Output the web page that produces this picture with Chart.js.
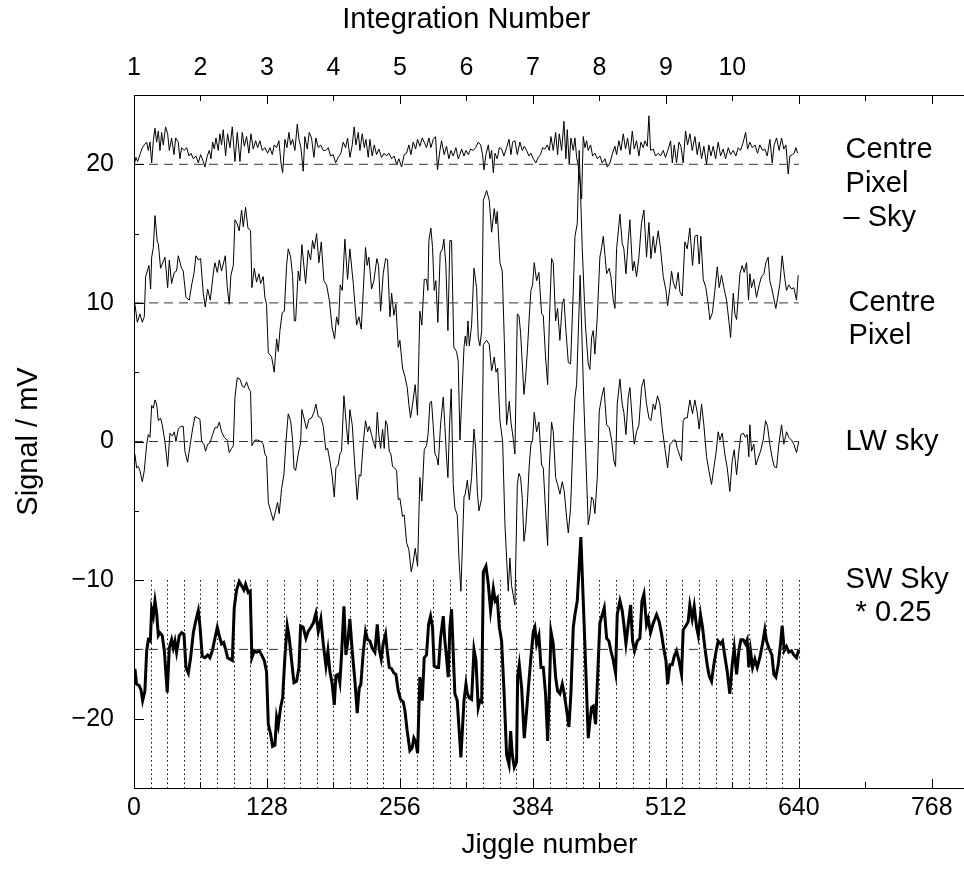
<!DOCTYPE html>
<html>
<head>
<meta charset="utf-8">
<script src="https://cdn.jsdelivr.net/npm/chart.js@4.4.1/dist/chart.umd.min.js"></script>
<style>
  html, body { margin: 0; padding: 0; background: #fff; overflow: hidden; }
  #wrap { width: 964px; height: 869px; overflow: hidden; }
</style>
</head>
<body>
<div id="wrap"><canvas id="jiggleChart" width="1000" height="869"></canvas></div>
<script>
  // [jiggle number, signal mV]
  const centreMinusSky = [
    [0.3,20.0],[1.9,20.5],[3.5,20.2],[5.7,20.7],[8.0,21.2],[9.9,21.4],[12.2,21.6],[13.8,21.0],[15.4,21.6],[17.0,20.1],
    [18.6,21.7],[20.2,22.6],[21.8,21.6],[23.4,22.4],[25.0,21.0],[26.6,22.3],[28.2,21.4],[30.4,22.7],[32.4,22.2],[34.0,21.0],
    [36.2,21.9],[38.5,20.7],[40.1,21.9],[42.6,21.6],[44.2,20.4],[45.8,21.2],[48.4,21.0],[50.7,21.2],[52.9,20.6],[54.8,20.8],
    [57.1,20.4],[59.6,20.6],[61.9,20.1],[64.1,20.7],[66.7,20.2],[68.3,19.8],[70.5,20.6],[72.5,21.0],[74.1,20.4],[75.7,21.6],
    [77.3,21.1],[78.9,21.9],[81.1,21.0],[82.7,22.2],[84.3,21.4],[85.9,22.5],[88.2,20.6],[90.1,22.2],[92.4,21.2],[94.6,22.7],
    [97.2,20.2],[99.4,22.3],[102.0,20.2],[104.2,22.3],[106.2,21.3],[108.4,22.0],[110.6,20.8],[112.6,22.2],[114.8,21.1],[117.1,21.7],
    [119.0,21.2],[121.2,21.7],[123.5,21.0],[126.0,21.2],[128.6,20.8],[130.9,21.2],[133.1,20.7],[135.0,21.4],[137.3,21.2],[139.5,21.7],
    [141.5,20.1],[143.1,19.4],[145.3,21.8],[147.2,21.2],[149.1,22.3],[150.8,21.4],[152.7,21.8],[154.9,21.0],[157.2,22.9],[158.8,21.8],
    [160.7,21.2],[162.9,19.5],[164.5,22.0],[166.8,21.1],[168.7,22.3],[170.9,21.9],[173.2,20.5],[175.1,21.9],[177.4,21.2],[179.6,21.4],
    [182.2,21.0],[184.4,21.0],[187.0,21.2],[189.2,20.6],[191.8,20.7],[194.1,20.1],[196.6,20.5],[199.2,20.8],[201.4,21.6],[203.7,21.2],
    [205.6,21.9],[207.9,20.5],[210.1,21.4],[212.0,22.7],[213.6,21.4],[215.9,22.3],[217.5,21.0],[219.7,22.2],[221.7,21.2],[223.3,21.8],
    [225.5,20.5],[227.1,21.8],[229.3,20.6],[231.3,21.4],[233.5,20.7],[235.8,21.1],[238.3,20.5],[240.9,20.8],[243.1,20.6],[245.4,20.8],
    [248.0,20.4],[250.5,20.6],[252.8,20.0],[255.0,20.4],[257.6,19.8],[260.1,20.7],[262.4,20.8],[264.6,21.4],[266.6,20.7],[268.8,21.6],
    [271.1,21.1],[273.0,21.8],[275.2,21.3],[277.5,21.9],[279.4,21.6],[281.6,21.2],[283.9,21.9],[285.8,21.2],[288.1,21.8],[290.3,22.0],
    [292.2,19.6],[294.5,21.0],[296.1,21.7],[298.6,20.7],[300.9,21.3],[303.1,20.4],[305.1,21.0],[307.3,20.6],[309.9,21.2],[312.1,20.4],
    [313.8,20.7],[315.4,21.1],[317.7,20.6],[319.6,21.0],[321.8,20.7],[324.1,21.1],[326.6,21.0],[328.9,21.2],[331.4,21.6],[333.7,21.4],
    [335.6,20.7],[336.9,19.6],[338.8,20.7],[341.1,21.4],[342.7,20.4],[344.3,21.0],[345.9,19.4],[347.5,20.8],[349.7,20.4],[351.7,21.2],
    [353.9,21.1],[356.1,20.6],[358.7,21.2],[361.0,21.8],[362.9,20.7],[364.5,21.6],[366.7,21.7],[369.0,20.7],[371.5,21.6],[373.8,21.0],
    [375.7,21.3],[378.0,21.0],[380.2,20.6],[382.1,20.8],[384.4,20.4],[386.9,20.1],[389.2,20.5],[391.4,20.7],[393.4,21.2],[395.6,21.1],
    [397.9,21.4],[399.8,21.0],[401.4,22.0],[403.6,21.0],[405.9,22.3],[407.8,20.7],[409.4,22.2],[411.7,21.0],[413.9,23.1],[415.8,20.4],
    [417.1,22.5],[419.0,20.0],[420.6,21.9],[422.9,21.0],[424.5,21.9],[426.1,20.5],[427.7,19.9],[429.3,18.8],[430.9,17.5],[432.5,22.0],
    [434.1,21.2],[435.7,21.7],[437.3,21.0],[439.6,21.4],[441.5,20.6],[443.7,20.8],[446.0,20.4],[448.5,20.6],[450.8,20.1],[453.4,20.4],
    [455.6,19.8],[458.2,20.1],[460.7,20.8],[463.0,21.3],[464.6,20.7],[466.8,21.7],[468.8,21.0],[471.0,22.2],[473.2,21.1],[475.2,21.9],
    [477.4,20.7],[479.7,22.4],[481.6,21.1],[483.8,21.7],[486.1,20.6],[488.0,21.6],[490.3,21.2],[491.9,21.7],[494.1,21.3],[495.7,23.5],
    [497.3,21.0],[499.9,21.1],[502.1,20.6],[504.7,20.8],[506.9,20.6],[509.5,21.0],[511.7,20.5],[514.3,21.1],[516.6,21.7],[518.2,20.1],
    [520.1,21.4],[522.3,20.1],[524.6,21.6],[526.5,21.3],[528.7,20.1],[531.0,22.4],[532.9,21.4],[535.2,22.2],[537.4,21.0],[540.0,22.0],
    [542.2,20.7],[544.2,21.6],[546.4,20.4],[548.6,21.3],[551.2,20.0],[553.4,21.4],[555.4,20.6],[557.6,21.3],[559.9,20.4],[562.4,21.6],
    [564.7,20.6],[567.2,21.1],[569.5,20.4],[572.1,21.2],[574.3,20.7],[576.9,21.0],[579.4,20.6],[581.7,21.2],[583.9,21.0],[586.5,21.6],
    [588.8,22.3],[590.7,21.1],[592.9,21.6],[595.2,21.2],[597.7,21.4],[600.3,20.8],[602.5,21.4],[605.1,21.0],[607.4,21.1],[609.6,20.6],
    [612.2,21.8],[614.4,20.1],[616.3,21.4],[618.6,21.9],[621.1,21.0],[623.4,21.9],[625.6,21.1],[627.6,21.4],[629.8,19.3],[631.4,20.6],
    [633.7,20.7],[635.6,20.8],[637.2,21.2],[638.8,20.8]
  ];

  const centrePixel = [
    [0.9,9.9],[3.2,8.6],[5.7,9.2],[8.0,8.6],[9.9,9.0],[11.2,11.9],[14.4,12.7],[16.0,11.0],[17.0,13.3],[18.6,14.0],
    [20.2,16.3],[22.4,14.4],[23.4,14.3],[25.6,12.5],[27.2,12.8],[29.8,13.3],[32.4,11.1],[34.0,13.1],[36.2,11.4],[38.8,12.2],
    [41.0,12.3],[42.6,13.4],[45.8,12.5],[47.4,12.3],[50.0,10.4],[53.2,10.2],[55.5,11.3],[57.7,12.1],[59.6,13.4],[61.9,13.1],
    [64.1,13.2],[66.7,10.7],[68.6,9.7],[70.9,11.0],[73.4,10.2],[76.3,12.1],[77.9,12.9],[80.2,12.2],[82.1,13.1],[84.3,12.3],
    [87.9,13.4],[89.8,11.1],[91.7,9.9],[93.3,12.0],[95.6,12.7],[97.2,16.0],[99.4,15.7],[101.3,15.2],[103.6,16.7],[105.2,15.5],
    [107.4,16.9],[109.7,15.4],[112.2,15.2],[113.5,11.1],[115.8,12.5],[118.0,11.5],[120.3,12.1],[121.9,11.4],[124.4,11.9],[126.0,10.4],
    [127.6,9.9],[129.3,6.4],[132.5,6.1],[135.0,5.0],[137.3,7.4],[138.9,6.5],[140.5,8.0],[142.7,9.3],[144.7,9.4],[146.9,12.7],
    [148.5,13.9],[150.8,13.3],[152.7,11.9],[154.3,8.7],[155.6,8.7],[158.1,12.3],[159.7,11.6],[161.6,14.2],[165.2,11.4],[167.7,13.8],
    [170.0,13.1],[171.9,14.5],[173.5,13.9],[175.8,15.0],[178.0,12.9],[180.3,14.4],[182.8,11.6],[185.4,11.3],[188.0,10.2],[190.8,8.2],
    [193.1,7.4],[195.0,9.0],[196.9,8.4],[198.5,11.3],[200.5,10.9],[203.0,14.6],[205.6,11.7],[207.8,13.9],[211.1,11.4],[214.3,8.4],
    [216.5,9.0],[218.8,8.1],[220.7,10.9],[222.9,14.0],[224.5,12.7],[226.1,13.3],[228.7,11.0],[230.9,11.6],[233.8,13.2],[235.4,12.7],
    [237.4,9.4],[239.9,12.1],[242.2,13.2],[244.1,13.1],[246.4,9.0],[248.0,10.7],[250.2,9.1],[252.1,9.9],[254.4,6.8],[256.0,7.3],
    [258.5,5.3],[260.8,4.7],[263.0,3.9],[264.6,2.7],[266.2,1.7],[268.2,2.7],[270.7,4.1],[272.9,1.9],[275.2,9.4],[277.1,8.4],
    [279.4,11.7],[281.6,11.7],[282.9,10.9],[283.9,14.5],[285.8,15.4],[287.4,14.0],[289.0,10.9],[290.6,11.6],[292.5,8.6],[294.8,13.6],
    [297.0,13.9],[298.3,14.6],[300.2,12.8],[302.2,8.0],[304.1,14.5],[305.7,14.5],[307.9,6.8],[310.5,6.5],[312.1,5.8],[313.8,0.1],
    [317.7,6.8],[318.9,7.6],[320.2,6.9],[321.5,8.7],[322.8,6.9],[325.0,8.4],[327.3,12.5],[329.8,11.1],[331.4,7.5],[333.0,6.9],
    [334.7,8.0],[336.3,17.4],[339.5,18.1],[342.0,17.4],[344.3,15.1],[346.8,16.8],[348.5,15.7],[349.7,16.6],[352.3,12.9],[354.5,12.3],
    [356.5,7.3],[358.7,1.2],[361.3,2.9],[362.9,1.4],[365.1,0.2],[366.7,-0.9],[369.0,9.2],[370.6,9.1],[372.2,7.8],[373.8,5.6],
    [375.4,3.4],[377.0,4.6],[378.9,6.8],[380.5,9.0],[382.1,10.9],[383.7,11.3],[385.3,12.9],[387.6,11.6],[389.8,12.2],[392.4,9.2],
    [394.0,9.1],[396.2,6.1],[398.2,4.1],[399.8,8.5],[402.0,13.2],[403.6,12.9],[405.9,8.7],[407.8,9.6],[410.0,7.3],[412.3,9.9],
    [413.9,10.3],[415.8,8.0],[418.1,5.7],[420.3,5.6],[422.9,10.9],[424.5,14.8],[426.7,15.7],[428.6,21.0],[431.5,14.0],[434.5,8.5],
    [437.3,5.6],[438.9,5.2],[440.5,7.5],[442.1,8.0],[443.7,6.3],[446.0,9.0],[448.5,13.3],[450.2,14.0],[451.8,14.8],[455.0,12.1],
    [457.5,12.5],[459.1,11.9],[461.4,10.2],[463.0,9.6],[464.6,13.9],[467.8,16.4],[470.0,14.3],[471.6,13.9],[473.6,12.1],[475.8,14.5],
    [477.4,16.0],[480.0,12.3],[481.6,13.0],[483.8,11.9],[486.1,13.3],[488.6,15.8],[490.9,16.7],[493.4,13.3],[495.7,15.8],[497.6,13.2],
    [499.9,14.8],[501.5,13.6],[504.7,15.2],[506.9,13.9],[509.5,11.9],[512.1,10.9],[513.7,9.8],[515.9,11.1],[517.5,12.3],[519.1,11.5],
    [521.4,11.0],[523.9,12.2],[525.5,10.8],[527.8,10.5],[530.3,14.4],[532.6,13.9],[535.1,15.4],[537.7,12.7],[539.9,14.8],[542.2,14.9],
    [544.1,12.8],[545.7,14.8],[548.0,11.7],[550.5,11.1],[552.8,9.9],[554.4,8.8],[556.9,9.3],[559.2,10.9],[561.5,12.6],[563.4,11.1],
    [565.6,12.0],[567.9,11.1],[570.4,10.2],[572.7,8.7],[574.3,7.5],[576.9,10.7],[578.5,9.2],[580.1,8.8],[583.3,12.1],[585.5,12.7],
    [587.4,12.2],[589.7,12.9],[591.6,10.2],[592.9,12.1],[594.5,11.1],[596.7,11.7],[599.3,10.4],[601.9,11.3],[604.1,11.9],[606.4,12.1],
    [608.3,12.9],[610.5,13.3],[612.1,11.6],[613.8,11.1],[616.0,10.3],[617.9,9.6],[619.5,10.3],[621.8,11.4],[624.0,13.4],[626.6,11.7],
    [628.2,10.9],[630.4,11.3],[633.0,11.0],[635.2,11.1],[637.8,10.2],[639.4,12.0]
  ];

  const lwSky = [
    [0.9,-0.9],[2.5,-1.9],[4.1,-1.8],[5.7,-2.1],[8.0,-2.9],[9.9,-2.1],[12.2,-0.2],[13.8,0.5],[15.4,0.3],[17.0,2.6],
    [18.6,2.4],[20.2,3.0],[21.8,2.7],[23.4,1.5],[25.6,1.7],[27.2,1.2],[29.8,0.0],[32.4,-1.8],[34.6,0.6],[36.9,0.4],
    [38.8,0.7],[40.4,0.0],[42.6,0.9],[45.2,1.1],[47.4,1.1],[49.0,-0.7],[51.6,-1.5],[53.9,-0.3],[56.4,0.9],[58.7,1.8],
    [61.2,1.7],[63.5,1.6],[65.1,0.0],[67.3,-0.2],[68.9,-0.7],[70.9,-0.2],[73.1,-0.1],[75.7,0.5],[77.9,1.0],[80.2,1.0],
    [82.1,1.4],[84.3,0.7],[86.9,0.3],[89.8,0.1],[91.7,-0.8],[94.0,-0.5],[95.6,-0.3],[97.2,3.2],[99.4,4.6],[102.0,4.5],
    [104.2,4.0],[106.2,3.9],[108.4,4.3],[110.6,3.8],[112.2,3.6],[113.5,-0.3],[116.4,0.1],[119.0,0.1],[122.2,0.0],[124.4,-0.2],
    [126.0,-0.9],[127.6,-1.1],[129.3,-4.4],[131.5,-5.0],[134.1,-5.7],[136.3,-5.0],[138.2,-4.4],[139.8,-5.2],[142.1,-3.4],[144.3,-2.4],
    [146.3,0.0],[148.5,2.0],[150.8,1.5],[152.7,0.1],[154.0,-1.9],[155.6,-2.1],[158.1,-0.9],[160.4,-0.1],[161.6,2.3],[163.6,1.7],
    [166.1,0.9],[168.4,1.6],[171.0,1.7],[173.2,2.1],[175.1,2.7],[177.4,1.8],[179.9,1.7],[182.2,1.1],[184.7,-0.6],[186.4,-0.5],
    [188.6,-1.4],[190.8,-2.5],[192.8,-4.0],[194.4,-1.9],[196.6,-1.7],[198.2,-0.9],[199.8,-0.7],[202.1,3.3],[204.6,1.0],[206.2,-0.2],
    [207.8,2.3],[210.1,1.2],[212.7,-1.9],[214.9,-4.2],[216.8,-2.4],[218.4,-2.5],[220.7,-0.1],[222.9,1.5],[224.9,0.7],[226.5,1.1],
    [228.7,0.5],[230.3,0.0],[232.5,-0.5],[234.2,2.1],[235.8,0.4],[237.4,-0.5],[239.3,0.9],[240.9,-0.5],[242.2,1.5],[243.8,1.2],
    [245.7,-0.7],[247.3,-0.9],[248.9,-1.8],[250.8,-1.9],[252.8,-2.1],[254.4,-4.2],[256.0,-4.1],[258.5,-5.4],[260.1,-5.3],[262.4,-7.3],
    [264.6,-7.8],[266.9,-9.4],[268.8,-8.7],[270.7,-7.7],[273.0,-9.0],[275.2,-2.6],[277.1,-4.3],[279.4,-0.6],[281.6,-0.3],[283.2,0.6],
    [284.8,2.8],[286.4,2.9],[288.0,1.2],[289.7,-0.9],[291.3,-1.1],[292.9,-1.7],[295.1,1.2],[297.7,3.2],[299.3,1.1],[300.9,-1.2],
    [302.2,-2.6],[303.8,1.2],[305.4,3.8],[307.3,-3.1],[308.9,-4.8],[311.2,-5.3],[312.8,-8.4],[314.7,-10.8],[317.7,-4.0],[318.9,-3.8],
    [320.9,-2.8],[322.8,-4.2],[325.0,-2.6],[327.3,0.9],[328.9,-0.5],[330.5,-3.6],[332.1,-5.0],[334.7,-4.1],[336.3,7.0],[339.5,7.3],
    [342.0,7.0],[344.3,5.1],[346.8,6.1],[348.5,5.0],[350.1,5.3],[352.3,1.5],[354.9,0.0],[357.1,-6.0],[358.7,-8.4],[360.3,-10.8],
    [361.9,-8.4],[363.5,-10.4],[365.1,-11.1],[366.7,-11.8],[369.0,-3.1],[370.6,-2.3],[372.2,-2.6],[373.8,-4.1],[375.4,-7.2],[377.0,-6.3],
    [378.9,-4.1],[380.5,-1.7],[382.1,-0.2],[383.7,0.1],[385.3,2.1],[387.6,0.7],[389.8,1.4],[392.4,-1.7],[394.0,-1.9],[396.2,-5.0],
    [398.2,-7.5],[399.8,-1.9],[402.0,1.4],[403.6,0.7],[405.9,-2.6],[407.8,-3.1],[410.0,-3.8],[412.3,-2.9],[414.2,-3.6],[416.5,-5.5],
    [418.1,-6.6],[420.3,-4.8],[422.9,0.7],[424.5,3.2],[426.1,4.1],[429.5,12.0],[433.0,3.0],[437.3,-6.0],[438.9,-5.3],[440.5,-4.0],
    [442.1,-4.2],[443.7,-5.2],[446.0,-2.6],[447.9,2.2],[450.2,3.2],[452.4,3.9],[455.0,1.2],[457.5,1.0],[459.8,0.1],[462.0,-1.4],
    [463.6,-1.8],[465.2,2.7],[467.8,4.5],[470.0,2.7],[471.6,2.1],[473.6,0.5],[475.8,3.2],[477.4,3.9],[480.0,1.2],[481.6,-0.2],
    [483.8,0.7],[486.1,1.2],[488.6,3.9],[490.9,4.5],[493.4,2.7],[495.7,1.7],[497.6,1.5],[499.9,2.7],[501.5,2.3],[504.0,3.3],
    [506.3,2.7],[508.5,1.0],[511.1,-0.5],[513.7,-1.9],[515.9,-0.2],[517.5,-0.1],[519.1,0.1],[521.4,0.1],[523.0,-0.5],[524.9,-0.9],
    [527.1,-1.4],[528.7,1.5],[530.3,1.7],[532.6,1.7],[535.1,3.0],[537.7,2.0],[539.9,3.0],[542.2,2.1],[544.1,0.9],[546.4,2.7],
    [548.6,1.2],[551.2,-1.1],[553.4,-2.1],[556.0,-3.1],[558.2,-1.9],[560.2,-0.9],[562.4,0.7],[564.0,0.1],[566.3,0.6],[568.8,-0.9],
    [571.1,-1.9],[573.6,-3.6],[575.9,-1.4],[577.8,-0.6],[580.1,-2.4],[582.3,-0.7],[584.2,0.5],[586.5,0.6],[588.7,0.3],[590.3,0.5],
    [591.9,-1.1],[592.9,1.2],[594.5,-0.7],[596.7,-0.2],[598.7,-1.7],[600.9,-1.2],[603.2,-0.7],[605.7,0.1],[608.0,1.5],[609.9,1.1],
    [612.1,-0.2],[614.4,-1.2],[616.3,-1.8],[618.6,-1.9],[620.8,-0.2],[623.4,1.2],[625.6,-0.2],[628.2,0.7],[630.4,0.3],[633.0,0.1],
    [635.2,-0.2],[637.8,-0.8],[640.0,0.0]
  ];

  // SW sky, already scaled by 0.25 and offset to -15
  const swSky = [
    [0.9,-16.4],[2.5,-17.5],[4.8,-17.6],[6.7,-17.9],[8.3,-18.7],[10.5,-18.0],[12.2,-15.1],[13.8,-14.3],[15.7,-14.4],[17.0,-12.1],
    [18.6,-12.6],[20.2,-11.5],[21.8,-12.4],[23.4,-14.0],[25.0,-13.8],[27.2,-14.0],[29.2,-15.1],[32.0,-18.1],[34.0,-14.9],[36.2,-14.3],
    [37.8,-14.9],[39.4,-14.4],[41.0,-15.2],[43.6,-14.0],[45.8,-13.8],[48.1,-13.9],[50.0,-16.3],[52.3,-16.7],[54.5,-15.6],[57.1,-13.8],
    [59.3,-13.0],[61.9,-12.2],[63.5,-13.3],[65.7,-15.5],[68.3,-15.6],[70.9,-15.4],[73.1,-15.6],[75.4,-15.1],[77.9,-14.2],[80.2,-13.4],
    [82.1,-14.0],[84.3,-14.6],[86.3,-14.5],[88.2,-15.0],[90.1,-15.6],[92.4,-15.7],[94.6,-15.8],[96.5,-12.0],[98.8,-10.7],[101.3,-10.1],
    [103.6,-10.4],[105.8,-10.7],[107.4,-10.3],[110.0,-10.9],[111.9,-10.8],[113.5,-15.6],[115.8,-15.1],[118.0,-15.2],[120.6,-15.1],[122.8,-15.4],
    [125.4,-15.8],[127.6,-16.6],[129.3,-20.4],[131.5,-21.1],[133.4,-22.0],[135.7,-21.9],[137.3,-19.9],[138.9,-20.5],[141.1,-19.2],[143.1,-18.5],
    [145.3,-15.5],[147.5,-13.3],[149.5,-14.2],[151.7,-15.8],[154.0,-17.4],[156.5,-17.3],[158.8,-16.3],[160.4,-13.3],[162.9,-13.4],[165.5,-14.2],
    [167.7,-13.7],[170.3,-13.4],[172.6,-13.1],[175.1,-12.4],[177.4,-13.7],[179.9,-12.8],[182.2,-14.6],[184.8,-16.2],[186.7,-15.1],[188.6,-16.6],
    [190.8,-17.5],[192.8,-19.0],[194.4,-16.9],[196.6,-16.8],[198.2,-17.4],[199.8,-15.4],[202.1,-11.9],[204.0,-15.4],[206.2,-14.2],[207.8,-12.8],
    [210.1,-15.1],[212.7,-17.3],[214.9,-19.6],[216.8,-17.8],[218.4,-17.5],[220.7,-15.2],[222.9,-13.7],[224.9,-14.3],[227.1,-14.4],[229.3,-14.9],
    [231.9,-15.2],[234.2,-13.2],[236.1,-15.0],[238.0,-15.7],[239.9,-14.6],[242.2,-13.9],[243.8,-15.1],[245.7,-16.3],[248.0,-16.4],[250.2,-16.7],
    [252.1,-16.8],[254.4,-18.0],[256.6,-18.6],[259.2,-18.8],[260.8,-19.4],[263.0,-20.9],[265.6,-22.3],[267.8,-22.1],[269.4,-21.4],[271.4,-21.7],
    [273.0,-22.5],[275.2,-17.0],[277.5,-18.7],[279.4,-15.6],[281.6,-15.4],[283.6,-13.2],[285.5,-12.6],[287.4,-13.4],[289.0,-16.2],[291.3,-16.3],
    [293.2,-16.3],[295.1,-14.2],[297.7,-12.6],[299.3,-14.4],[300.9,-15.6],[302.5,-17.0],[304.1,-13.4],[305.7,-12.1],[307.3,-15.2],[308.9,-18.2],
    [311.2,-18.7],[312.8,-20.6],[314.7,-22.8],[317.7,-18.7],[319.6,-17.5],[320.9,-18.2],[322.8,-18.5],[325.0,-18.6],[327.3,-15.0],[329.2,-15.8],
    [331.4,-19.2],[333.0,-18.7],[334.7,-18.8],[336.3,-9.4],[338.8,-9.0],[341.1,-10.3],[343.3,-12.2],[345.9,-10.6],[347.8,-11.5],[349.7,-11.3],
    [351.7,-13.4],[353.9,-14.4],[356.2,-18.0],[358.7,-22.6],[361.0,-23.3],[362.6,-20.9],[364.2,-22.6],[366.1,-23.5],[368.3,-23.1],[369.3,-17.0],
    [370.9,-16.1],[373.2,-17.8],[375.7,-21.4],[378.0,-19.4],[380.2,-17.3],[382.1,-15.6],[384.4,-13.7],[385.9,-13.4],[387.6,-14.6],[389.8,-14.0],
    [391.8,-16.3],[394.0,-16.3],[396.2,-18.2],[398.2,-21.6],[399.8,-18.2],[401.4,-13.7],[403.6,-14.6],[405.9,-17.0],[407.8,-18.0],[410.0,-18.2],
    [412.3,-17.5],[414.2,-18.2],[416.5,-19.4],[418.7,-20.6],[420.6,-18.2],[422.9,-13.4],[424.5,-12.5],[426.7,-11.5],[430.2,-6.9],[434.0,-14.5],
    [437.3,-21.4],[438.9,-20.2],[440.5,-19.2],[442.1,-19.1],[444.4,-20.4],[446.3,-17.0],[448.5,-13.1],[450.8,-12.5],[452.7,-12.0],[455.0,-14.2],
    [457.2,-14.4],[459.1,-15.1],[461.4,-15.8],[463.6,-16.7],[465.2,-12.5],[467.8,-11.5],[470.0,-12.2],[471.6,-13.2],[473.6,-14.6],[475.8,-13.2],
    [478.1,-11.8],[480.0,-14.4],[481.9,-15.1],[484.5,-14.4],[487.0,-14.2],[489.0,-11.5],[490.9,-11.0],[493.4,-13.2],[495.0,-12.8],[497.3,-13.8],
    [499.9,-13.1],[503.1,-12.5],[505.6,-13.0],[507.9,-13.9],[510.1,-15.0],[512.1,-15.8],[513.7,-17.5],[515.9,-16.1],[518.1,-16.1],[520.1,-15.5],
    [522.3,-15.1],[524.6,-15.8],[527.1,-16.8],[528.7,-13.6],[531.3,-13.3],[533.5,-13.0],[535.1,-11.8],[537.4,-12.8],[539.3,-11.9],[541.6,-13.4],
    [543.2,-14.0],[545.4,-12.5],[547.3,-13.4],[549.6,-14.9],[551.8,-16.1],[553.7,-16.9],[556.0,-17.3],[558.2,-16.1],[560.2,-15.2],[562.4,-14.4],
    [564.7,-14.6],[566.6,-14.4],[568.8,-15.5],[571.1,-16.6],[573.6,-18.2],[575.9,-16.1],[577.8,-14.9],[580.1,-16.8],[582.3,-15.1],[584.2,-14.3],
    [586.5,-14.3],[588.7,-14.6],[590.3,-14.3],[591.9,-16.3],[593.5,-15.1],[595.5,-16.3],[597.7,-15.7],[600.0,-16.3],[602.5,-15.6],[605.1,-14.6],
    [607.3,-13.6],[608.9,-14.4],[611.2,-14.9],[614.1,-15.4],[616.0,-16.8],[617.9,-17.0],[620.2,-16.1],[622.4,-14.6],[624.0,-13.3],[626.0,-15.1],
    [628.2,-14.8],[630.4,-15.2],[633.0,-15.1],[635.2,-15.4],[637.8,-15.6],[640.0,-15.0]
  ];

  const baselines = [20, 10, 0, -15];
  const baselineEnd = 640;
  const jiggleTicks = [0, 128, 256, 384, 512, 640, 768];
  const signalTicks = [-20, -10, 0, 10, 20];
  const integrationNumbers = [1, 2, 3, 4, 5, 6, 7, 8, 9, 10];
  const jigglesPerIntegration = 64;
  const markStep = 16; // dotted markers every 16 jiggles below -10

  const FONT = '"Liberation Sans", Arial, Helvetica, sans-serif';
  const toXY = pts => pts.map(p => ({ x: p[0], y: p[1] }));
  const minus = v => String(v).replace('-', '\u2212');

  function lineSet(pts, width) {
    return {
      data: toXY(pts),
      borderColor: '#000',
      borderWidth: width,
      pointRadius: 0,
      tension: 0,
      fill: false
    };
  }

  const datasets = baselines.map(b => ({
    data: [{ x: 0, y: b }, { x: baselineEnd, y: b }],
    borderColor: '#333',
    borderWidth: 1,
    borderDash: [9, 6],
    pointRadius: 0,
    fill: false
  }));
  datasets.push(lineSet(centreMinusSky, 1));
  datasets.push(lineSet(centrePixel, 1));
  datasets.push(lineSet(lwSky, 1));
  datasets.push(lineSet(swSky, 3));

  // frame (right side runs off the page), inward ticks, dotted markers and text labels
  const framePlugin = {
    id: 'framePlugin',
    beforeDatasetsDraw(chart) {
      const { ctx, chartArea: a, scales: { x, y } } = chart;
      ctx.save();
      ctx.strokeStyle = '#000';
      ctx.lineWidth = 1;
      ctx.setLineDash([1.5, 3]);
      for (let j = markStep; j <= baselineEnd; j += markStep) {
        const px = Math.round(x.getPixelForValue(j)) + 0.5;
        ctx.beginPath();
        ctx.moveTo(px, y.getPixelForValue(-10));
        ctx.lineTo(px, a.bottom);
        ctx.stroke();
      }
      ctx.restore();
    },
    afterDraw(chart) {
      const { ctx, chartArea: a, scales: { x, y } } = chart;
      ctx.save();
      ctx.strokeStyle = '#000';
      ctx.lineWidth = 1;
      ctx.strokeRect(Math.round(a.left) + 0.5, Math.round(a.top) + 0.5,
        Math.round(a.right - a.left), Math.round(a.bottom - a.top));

      ctx.beginPath();
      for (let j = 0; j <= 768; j += 64) {
        const px = Math.round(x.getPixelForValue(j)) + 0.5;
        const len = j % 128 === 0 ? 9 : 6;
        ctx.moveTo(px, a.bottom); ctx.lineTo(px, a.bottom - len);
        ctx.moveTo(px, a.top); ctx.lineTo(px, a.top + len);
      }
      for (let v = -25; v <= 25; v += 5) {
        const py = Math.round(y.getPixelForValue(v)) + 0.5;
        const len = v % 10 === 0 ? 10 : 5;
        ctx.moveTo(a.left, py); ctx.lineTo(a.left + len, py);
      }
      ctx.stroke();

      ctx.fillStyle = '#000';
      ctx.textBaseline = 'middle';
      ctx.textAlign = 'center';
      ctx.font = '29px ' + FONT;
      ctx.fillText('Integration Number', x.getPixelForValue(baselineEnd / 2), 20);

      ctx.textAlign = 'left';
      const lx = x.getPixelForValue(685);
      const put = (t, v, dx) => ctx.fillText(t, lx + (dx || 0), y.getPixelForValue(v));
      put('Centre', 21.0);
      put('Pixel', 18.6);
      put('\u2013 Sky', 16.1, -2);
      put('Centre', 10.0, 3);
      put('Pixel', 7.6, 3);
      put('LW sky', 0.0);
      put('SW Sky', -10.0);
      put('* 0.25', -12.4, 10);
      ctx.restore();
    }
  };

  new Chart(document.getElementById('jiggleChart'), {
    type: 'line',
    data: { datasets },
    options: {
      responsive: false,
      animation: false,
      events: [],
      layout: { padding: { right: 35, left: 0, top: 0, bottom: 0 } },
      plugins: { legend: { display: false }, tooltip: { enabled: false } },
      scales: {
        x: {
          type: 'linear',
          position: 'bottom',
          min: 0,
          max: 800,
          afterBuildTicks: s => { s.ticks = jiggleTicks.map(v => ({ value: v })); },
          afterFit: s => { s.height = 81; },
          grid: { display: false, drawTicks: false },
          border: { display: false },
          ticks: { color: '#000', font: { family: FONT, size: 25 }, padding: 5, maxRotation: 0 },
          title: {
            display: true, text: 'Jiggle number', color: '#000',
            font: { family: FONT, size: 28 }, padding: { top: 0, bottom: 7 }
          }
        },
        top: {
          type: 'linear',
          position: 'top',
          min: 0,
          max: 800,
          afterBuildTicks: s => { s.ticks = integrationNumbers.map(n => ({ value: (n - 1) * jigglesPerIntegration })); },
          afterFit: s => { s.height = 95; },
          grid: { display: false, drawTicks: false },
          border: { display: false },
          ticks: {
            color: '#000', font: { family: FONT, size: 25 }, padding: 12, maxRotation: 0, autoSkip: false,
            callback: v => v / jigglesPerIntegration + 1
          }
        },
        y: {
          type: 'linear',
          position: 'left',
          min: -25,
          max: 25,
          afterBuildTicks: s => { s.ticks = signalTicks.map(v => ({ value: v })); },
          afterFit: s => { s.width = 134; },
          grid: { display: false, drawTicks: false },
          border: { display: false },
          ticks: { color: '#000', font: { family: FONT, size: 25 }, padding: 20, callback: v => minus(v) },
          title: { display: true, text: 'Signal / mV', color: '#000', font: { family: FONT, size: 29 }, padding: { top: 12, bottom: 0 } }
        }
      }
    },
    plugins: [framePlugin]
  });
</script>
</body>
</html>
